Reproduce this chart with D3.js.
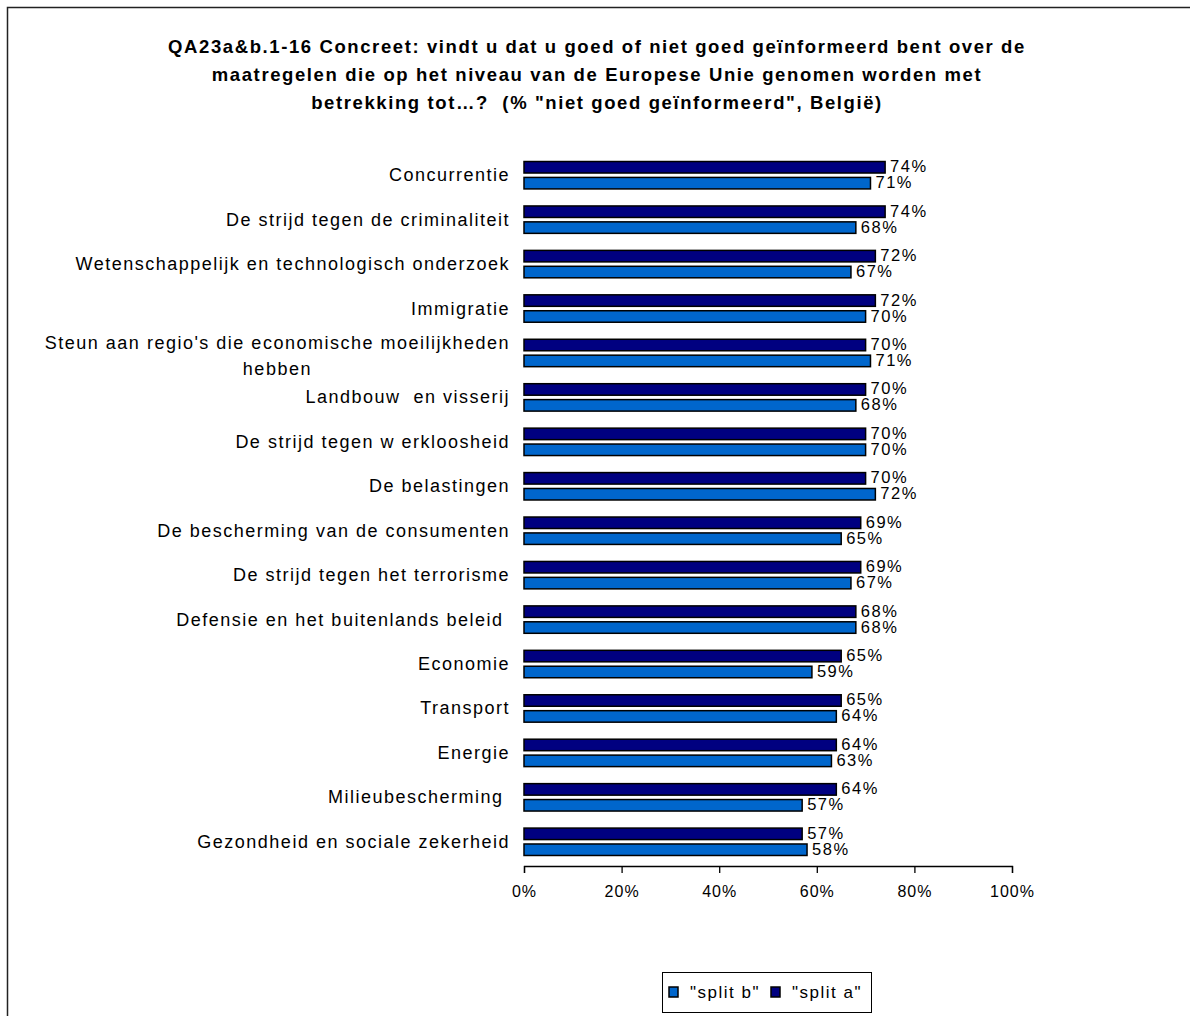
<!DOCTYPE html>
<html>
<head>
<meta charset="utf-8">
<script src="https://cdn.jsdelivr.net/npm/d3@7"></script>
<style>
  body { margin: 0; background: #fff; }
  text { font-family: "Liberation Sans", Arial, sans-serif; white-space: pre; }
</style>
</head>
<body>
<svg id="chart"></svg>
<script>
// data
var categories = ["Concurrentie", "De strijd tegen de criminaliteit", "Wetenschappelijk en technologisch onderzoek",
  "Immigratie", "Steun aan regio's die economische moeilijkheden|hebben", "Landbouw  en visserij",
  "De strijd tegen w erkloosheid", "De belastingen", "De bescherming van de consumenten",
  "De strijd tegen het terrorisme", "Defensie en het buitenlands beleid ", "Economie", "Transport",
  "Energie", "Milieubescherming ", "Gezondheid en sociale zekerheid"];
var splitA = [74, 74, 72, 72, 70, 70, 70, 70, 69, 69, 68, 65, 65, 64, 64, 57];
var splitB = [71, 68, 67, 70, 71, 68, 70, 72, 65, 67, 68, 59, 64, 63, 57, 58];
var ticks = [0, 20, 40, 60, 80, 100];
var titleLines = ["QA23a&b.1-16 Concreet: vindt u dat u goed of niet goed geïnformeerd bent over de",
  "maatregelen die op het niveau van de Europese Unie genomen worden met",
  "betrekking tot…?  (% \"niet goed geïnformeerd\", België)"];

var W = 1190, H = 1016;
var svg = d3.select("#chart").attr("width", W).attr("height", H);

// frame (only top and left edges fall inside the picture)
svg.append("rect").attr("x", 7.5).attr("y", 7.5).attr("width", 1300).attr("height", 1100)
  .attr("fill", "#fff").attr("stroke", "#222").attr("stroke-width", 1.5);

// title
svg.append("g").selectAll("text").data(titleLines).enter().append("text")
  .attr("x", 597).attr("y", function(d, i) { return 53 + i * 28; })
  .attr("text-anchor", "middle").attr("font-weight", "bold").attr("font-size", 18.5)
  .attr("letter-spacing", 1.6)
  .text(function(d) { return d; });

var x = d3.scaleLinear().domain([0, 100]).range([524, 1012]);
var y = d3.scaleBand().domain(d3.range(categories.length)).range([153, 864]);

var darkCol = "#000080", lightCol = "#0066CC";
var barH = 11.5;

var groups = svg.append("g").selectAll("g").data(categories).enter().append("g")
  .attr("transform", function(d, i) { return "translate(0," + y(i) + ")"; });

var mid = y.bandwidth() / 2;

// split a (dark, top)
groups.append("rect")
  .attr("x", x(0)).attr("y", mid - barH - 2.2)
  .attr("width", function(d, i) { return x(splitA[i]) - x(0); })
  .attr("height", barH).attr("fill", darkCol).attr("stroke", "#000").attr("stroke-width", 1.5);
// split b (light, bottom)
groups.append("rect")
  .attr("x", x(0)).attr("y", mid + 2.2)
  .attr("width", function(d, i) { return x(splitB[i]) - x(0); })
  .attr("height", barH).attr("fill", lightCol).attr("stroke", "#000").attr("stroke-width", 1.5);

// value labels
groups.append("text")
  .attr("x", function(d, i) { return x(splitA[i]) + 5; }).attr("y", mid - 3)
  .attr("font-size", 16.5).attr("letter-spacing", 1.5).text(function(d, i) { return splitA[i] + "%"; });
groups.append("text")
  .attr("x", function(d, i) { return x(splitB[i]) + 5; }).attr("y", mid + 13)
  .attr("font-size", 16.5).attr("letter-spacing", 1.5).text(function(d, i) { return splitB[i] + "%"; });

// category labels
groups.each(function(d) {
  var g = d3.select(this);
  var lines = d.split("|");
  if (lines.length === 1) {
    g.append("text").attr("x", 510).attr("y", mid + 6).attr("text-anchor", "end")
      .attr("font-size", 18).attr("letter-spacing", 1.5).text(d);
  } else {
    var t1 = g.append("text").attr("y", mid - 4).attr("text-anchor", "middle")
      .attr("font-size", 18).attr("letter-spacing", 1.5).text(lines[0]);
    var w = t1.node().getBBox().width;
    t1.attr("x", 510 - w / 2);
    g.append("text").attr("x", 510 - w / 2).attr("y", mid + 22).attr("text-anchor", "middle")
      .attr("font-size", 18).attr("letter-spacing", 1.5).text(lines[1]);
  }
});

// axis
var axis = svg.append("g").attr("transform", "translate(0,866)")
  .call(d3.axisBottom(x).tickValues(ticks).tickSize(7).tickPadding(13)
    .tickFormat(function(d) { return d + "%"; }));
axis.select(".domain").attr("stroke", "#000").attr("stroke-width", 1.3);
axis.selectAll(".tick line").attr("stroke", "#000").attr("stroke-width", 1.3);
axis.selectAll("text").attr("font-size", 16).attr("letter-spacing", 1)
  .attr("font-family", "Liberation Sans, Arial, sans-serif").attr("fill", "#000");

// legend
var leg = svg.append("g").attr("transform", "translate(662,972)");
leg.append("rect").attr("x", 0.5).attr("y", 0.5).attr("width", 209).attr("height", 40)
  .attr("fill", "#fff").attr("stroke", "#000");
var items = [{name: "\"split b\"", col: lightCol, x: 7}, {name: "\"split a\"", col: darkCol, x: 109}];
items.forEach(function(it) {
  leg.append("rect").attr("x", it.x).attr("y", 15).attr("width", 9).attr("height", 10)
    .attr("fill", it.col).attr("stroke", "#000").attr("stroke-width", 1.5);
  leg.append("text").attr("x", it.x + 21).attr("y", 26).attr("font-size", 17)
    .attr("letter-spacing", 1.5).text(it.name);
});
</script>
</body>
</html>
